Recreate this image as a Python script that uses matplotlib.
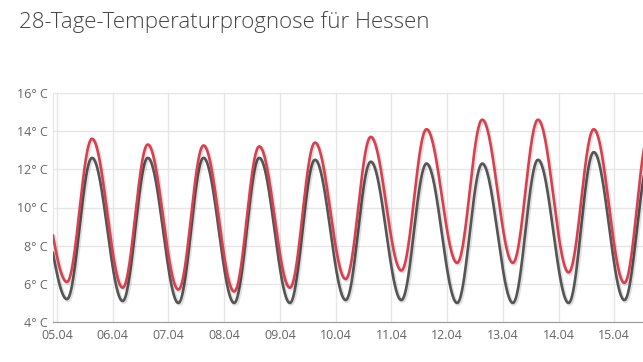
"""28-day temperature forecast for Hessen, two smoothed daily curves."""

import numpy as np
import matplotlib
matplotlib.use("Agg")
import matplotlib.pyplot as plt
import matplotlib.patheffects as pe

title = "28-Tage-Temperaturprognose für Hessen"
date_labels = ["05.04", "06.04", "07.04", "08.04", "09.04", "10.04",
               "11.04", "12.04", "13.04", "14.04", "15.04"]
y_ticks = [4, 6, 8, 10, 12, 14, 16]

# daily extremes (°C)
# peak lists: first entry is the afternoon before 05.04, last one is past the right edge
red_peaks = [11.7, 13.6, 13.3, 13.25, 13.2, 13.4, 13.7, 14.1, 14.6, 14.6, 14.1, 14.0]
red_troughs = [6.1, 5.8, 5.7, 5.6, 5.8, 6.25, 6.7, 7.1, 7.1, 6.6, 6.05]
gray_peaks = [10.8, 12.6, 12.6, 12.6, 12.6, 12.5, 12.4, 12.3, 12.3, 12.5, 12.9, 12.5]
gray_troughs = [5.2, 5.1, 5.0, 5.0, 5.0, 5.15, 5.15, 5.0, 5.0, 5.0, 5.15]

# time of day (fraction of day) of the early-morning low and afternoon high
trough_time = 0.18
peak_time = 0.63


def spline_curve(peaks, troughs):
    """Smooth line through alternating highs and lows (like a spline series)."""
    kt = [peak_time - 1]
    kv = [peaks[0]]
    for day, low in enumerate(troughs):
        kt += [day + trough_time, day + peak_time]
        kv += [low, peaks[day + 1]]
    kt = np.array(kt)
    kv = np.array(kv)
    t = np.linspace(kt[0], kt[-1], 3000)
    idx = np.clip(np.searchsorted(kt, t, side="right") - 1, 0, len(kt) - 2)
    f = (t - kt[idx]) / (kt[idx + 1] - kt[idx])
    v = kv[idx] + (kv[idx + 1] - kv[idx]) * (1 - np.cos(np.pi * f)) / 2
    return t, v


fig = plt.figure(figsize=(6.43, 3.62), dpi=100)
ax = fig.add_axes([53 / 643, 1 - 322 / 362, 592 / 643, 229 / 362])

shadow = [pe.SimpleLineShadow(offset=(0.8, -0.8), shadow_color="k", alpha=0.12, linewidth=2.8),
          pe.Normal()]

t, v = spline_curve(gray_peaks, gray_troughs)
ax.plot(t, v, color="#555555", lw=1.9, path_effects=shadow, solid_capstyle="round", zorder=3)
t, v = spline_curve(red_peaks, red_troughs)
ax.plot(t, v, color="#d8404f", lw=1.9, path_effects=shadow, solid_capstyle="round", zorder=4)

ax.set_xlim(-0.07, 10.55)
ax.set_ylim(4, 16)

ax.set_xticks(range(len(date_labels)))
ax.set_xticklabels(date_labels)
ax.set_yticks(y_ticks)
ax.set_yticklabels([f"{v}° C" for v in y_ticks])
ax.tick_params(length=0, labelsize=9, labelcolor="#666666")
ax.tick_params(axis="x", pad=5)
ax.tick_params(axis="y", pad=4)
for lab in ax.get_xticklabels() + ax.get_yticklabels():
    lab.set_family("Open Sans")

ax.grid(True, color="#e6e6e6", lw=1)
ax.set_axisbelow(True)
for side in ["top", "right"]:
    ax.spines[side].set_visible(False)
ax.spines["left"].set_color("#e6e6e6")
ax.spines["bottom"].set_color("#999999")

fig.text(19 / 643, 1 - 28 / 362, title, fontsize=16, family="Open Sans",
         fontweight="light", color="#444444", va="baseline")

fig.savefig("out.png", dpi=100)
